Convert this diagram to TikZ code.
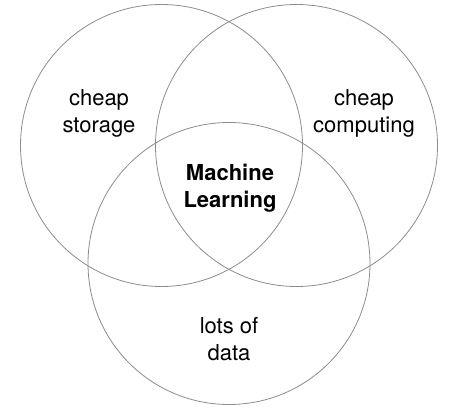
\documentclass[tikz,border=0pt]{standalone}
\usepackage{fontspec}
\setmainfont{TeX Gyre Heros}
\usepackage{tikz}
\usetikzlibrary{positioning}

\begin{document}
\begin{tikzpicture}[x=1pt, y=1pt,
    set/.style={circle, draw=black!45, line width=0.8pt, minimum size=282pt, inner sep=0pt},
    label/.style={align=center, text=black, font=\fontsize{22}{27}\selectfont}]
    \useasboundingbox (0,0) rectangle (461,413);

    \node (storage) [set] at (161.5,267.5) {};
    \node (computing) [set] at (296.5,267.5) {};
    \node (data) [set] at (229,149.5) {};

    \node (storagetext) [label] at (99,300) {cheap\\storage};
    \node (computingtext) [label] at (364,300) {cheap\\computing};
    \node (ml) [label, font=\fontsize{22}{27}\selectfont\bfseries] at (230,225) {Machine\\Learning};
    \node (datatext) [label] at (229,74) {lots of\\data};
\end{tikzpicture}
\end{document}
